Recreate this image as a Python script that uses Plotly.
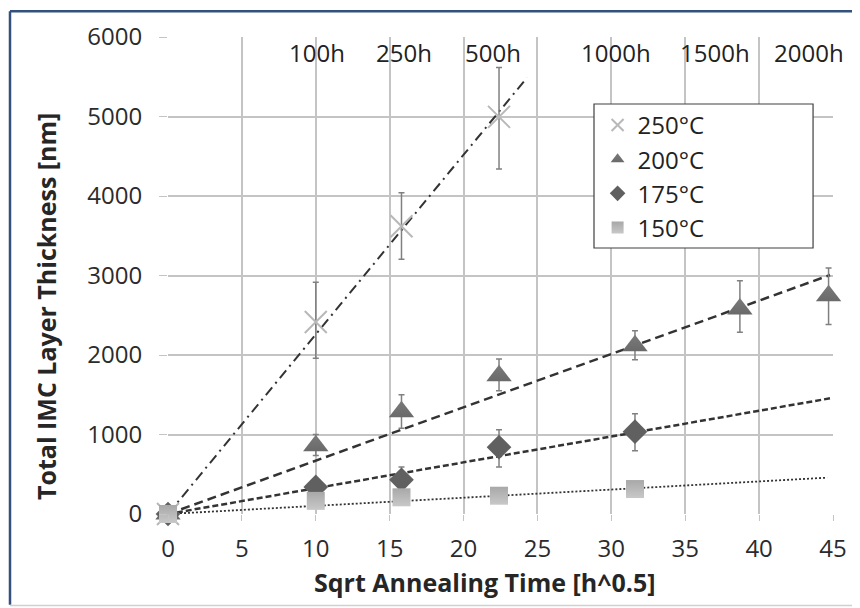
import plotly.graph_objects as go

# sqrt annealing time [h^0.5]
x_250 = [0, 10, 15.8, 22.4]
y_250 = [0, 2415, 3620, 4995]
err_up_250 = [0, 500, 420, 620]
err_dn_250 = [0, 455, 415, 655]

x_200 = [0, 10, 15.8, 22.4, 31.6, 38.7, 44.7]
y_200 = [0, 860, 1285, 1740, 2115, 2580, 2745]
err_up_200 = [0, 140, 215, 210, 190, 355, 350]
err_dn_200 = [0, 125, 205, 190, 175, 295, 360]

x_175 = [0, 10, 15.8, 22.4, 31.6]
y_175 = [0, 340, 430, 840, 1035]
err_up_175 = [0, 60, 160, 220, 225]
err_dn_175 = [0, 60, 115, 250, 240]

x_150 = [0, 10, 15.8, 22.4, 31.6]
y_150 = [0, 165, 210, 230, 314]

# linear trend lines through origin (end points)
trend_x_end = [24.3, 44.8, 44.8, 44.6]
trend_y_end = [5490, 3006, 1455, 457]

hour_labels = ["100h", "250h", "500h", "1000h", "1500h", "2000h"]
hour_label_x = [10.1, 16.0, 22.0, 30.3, 37.0, 43.4]

FONT = "Open Sans"

fig = go.Figure()

trend_dash = ["10px,5px,2px,5px", "9px,5px", "6px,3px", "2px,2px"]
trend_width = [2, 2.5, 2.5, 1.8]
for xe, ye, d, w in zip(trend_x_end, trend_y_end, trend_dash, trend_width):
    fig.add_trace(go.Scatter(
        x=[0, xe], y=[0, ye], mode="lines",
        line=dict(color="#333333", width=w, dash=d),
        showlegend=False, hoverinfo="skip", cliponaxis=False,
    ))

fig.add_trace(go.Scatter(
    x=x_250, y=y_250, mode="markers", name="250°C",
    marker=dict(symbol="x-thin", size=22, line=dict(color="#b8b8b8", width=2)),
    error_y=dict(type="data", array=err_up_250, arrayminus=err_dn_250,
                 color="#808080", thickness=1.5, width=3),
    cliponaxis=False,
))
fig.add_trace(go.Scatter(
    x=x_200, y=y_200, mode="markers", name="200°C",
    marker=dict(symbol="triangle-up", size=22, color="#7a7a7a",
                gradient=dict(type="vertical", color="#6a6a6a")),
    error_y=dict(type="data", array=err_up_200, arrayminus=err_dn_200,
                 color="#808080", thickness=1.5, width=3),
    cliponaxis=False,
))
fig.add_trace(go.Scatter(
    x=x_175, y=y_175, mode="markers", name="175°C",
    marker=dict(symbol="diamond", size=19, color="#606060"),
    error_y=dict(type="data", array=err_up_175, arrayminus=err_dn_175,
                 color="#808080", thickness=1.5, width=3),
    cliponaxis=False,
))
fig.add_trace(go.Scatter(
    x=x_150, y=y_150, mode="markers", name="150°C",
    marker=dict(symbol="square", size=18, color="#a8a8a8",
                gradient=dict(type="vertical", color="#c8c8c8")),
    cliponaxis=False,
))

for txt, xv in zip(hour_labels, hour_label_x):
    fig.add_annotation(x=xv, y=5800, text=txt, showarrow=False,
                       font=dict(family=FONT, size=24, color="#222222"))

# axis titles
fig.add_annotation(xref="paper", yref="paper", x=0.476, y=-0.1426,
                   text="<b>Sqrt Annealing Time [h^0.5]</b>", showarrow=False,
                   xanchor="center", yanchor="middle",
                   font=dict(family=FONT, size=25, color="#262626"))
fig.add_annotation(xref="paper", yref="paper", x=-0.1835, y=0.436,
                   text="<b>Total IMC Layer Thickness [nm]</b>", showarrow=False,
                   textangle=-90, xanchor="center", yanchor="middle",
                   font=dict(family=FONT, size=25, color="#262626"))

# legend box
fig.add_shape(type="rect", xref="paper", yref="paper", layer="above",
              x0=0.6406, x1=0.970, y0=0.5577, y1=0.8595,
              fillcolor="white", line=dict(color="#404040", width=1.2))

# frame around the figure
fig.add_shape(type="line", xref="paper", yref="paper",
              x0=-0.2376, x1=-0.2376, y0=-0.19, y1=1.054,
              line=dict(color="#34507d", width=2.5))
fig.add_shape(type="line", xref="paper", yref="paper",
              x0=-0.2376, x1=1.036, y0=1.054, y1=1.054,
              line=dict(color="#34507d", width=2.5))
fig.add_shape(type="line", xref="paper", yref="paper",
              x0=-0.2376, x1=1.036, y0=-0.192, y1=-0.192,
              line=dict(color="#d0d0d0", width=1.5))
fig.add_shape(type="line", xref="paper", yref="paper",
              x0=1.036, x1=1.036, y0=-0.192, y1=1.054,
              line=dict(color="#d0d0d0", width=1.5))

fig.update_layout(
    width=860, height=608,
    margin=dict(l=160, r=35, t=29, b=102),
    paper_bgcolor="white", plot_bgcolor="white",
    font=dict(family=FONT, size=24, color="#333333"),
    showlegend=True,
    legend=dict(x=0.646, y=0.862, xanchor="left", yanchor="top",
                bgcolor="rgba(0,0,0,0)", borderwidth=0,
                font=dict(family=FONT, size=24, color="#222222"),
                itemsizing="constant"),
    xaxis=dict(range=[0, 45], dtick=5, showgrid=True, gridcolor="#c4c4c4",
               gridwidth=1.5, zeroline=False, ticks="outside", ticklen=6,
               tickcolor="#c4c4c4", showline=False, automargin=False,
               ticklabelstandoff=7,
               tickfont=dict(size=24, color="#2b2b2b")),
    yaxis=dict(range=[0, 6000], dtick=1000, showgrid=True, gridcolor="#c4c4c4",
               gridwidth=1.5, zeroline=False, ticks="outside", ticklen=8,
               tickcolor="#c4c4c4", showline=False, automargin=False,
               ticklabelstandoff=12,
               tickfont=dict(size=24, color="#2b2b2b")),
)

fig.write_html("out.html")
